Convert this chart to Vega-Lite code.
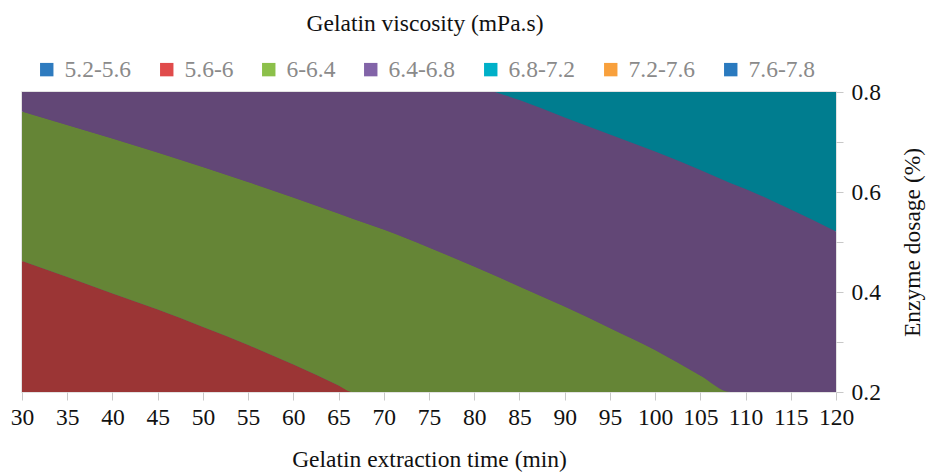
{
  "$schema": "https://vega.github.io/schema/vega-lite/v6.json",
  "width": 814,
  "height": 300,
  "autosize": {"type": "none"},
  "padding": {"left": 22, "top": 92, "right": 94, "bottom": 83},
  "background": "white",
  "config": {
    "font": "Liberation Serif",
    "axis": {"labelFont": "Liberation Serif", "titleFont": "Liberation Serif"},
    "legend": {"labelFont": "Liberation Serif", "titleFont": "Liberation Serif"},
    "view": {"fill": "#624776", "stroke": "#d9d9d9", "strokeWidth": 1.5}
  },
  "data": {
    "values": [
      {"band": "5.6-6", "x": 30, "lo": 0.2, "hi": 0.462},
      {"band": "5.6-6", "x": 35, "lo": 0.2, "hi": 0.430},
      {"band": "5.6-6", "x": 40, "lo": 0.2, "hi": 0.397},
      {"band": "5.6-6", "x": 45, "lo": 0.2, "hi": 0.365},
      {"band": "5.6-6", "x": 50, "lo": 0.2, "hi": 0.330},
      {"band": "5.6-6", "x": 55, "lo": 0.2, "hi": 0.294},
      {"band": "5.6-6", "x": 60, "lo": 0.2, "hi": 0.255},
      {"band": "5.6-6", "x": 65, "lo": 0.2, "hi": 0.213},
      {"band": "5.6-6", "x": 66.5, "lo": 0.2, "hi": 0.2},

      {"band": "6-6.4", "x": 30, "lo": 0.462, "hi": 0.761},
      {"band": "6-6.4", "x": 35, "lo": 0.430, "hi": 0.734},
      {"band": "6-6.4", "x": 40, "lo": 0.397, "hi": 0.707},
      {"band": "6-6.4", "x": 45, "lo": 0.365, "hi": 0.679},
      {"band": "6-6.4", "x": 50, "lo": 0.330, "hi": 0.650},
      {"band": "6-6.4", "x": 55, "lo": 0.294, "hi": 0.620},
      {"band": "6-6.4", "x": 60, "lo": 0.255, "hi": 0.589},
      {"band": "6-6.4", "x": 65, "lo": 0.213, "hi": 0.557},
      {"band": "6-6.4", "x": 66.5, "lo": 0.2, "hi": 0.547},
      {"band": "6-6.4", "x": 70, "lo": 0.2, "hi": 0.525},
      {"band": "6-6.4", "x": 75, "lo": 0.2, "hi": 0.489},
      {"band": "6-6.4", "x": 80, "lo": 0.2, "hi": 0.451},
      {"band": "6-6.4", "x": 85, "lo": 0.2, "hi": 0.411},
      {"band": "6-6.4", "x": 90, "lo": 0.2, "hi": 0.371},
      {"band": "6-6.4", "x": 95, "lo": 0.2, "hi": 0.328},
      {"band": "6-6.4", "x": 100, "lo": 0.2, "hi": 0.284},
      {"band": "6-6.4", "x": 105, "lo": 0.2, "hi": 0.233},
      {"band": "6-6.4", "x": 108.3, "lo": 0.2, "hi": 0.2},

      {"band": "6.4-6.8", "x": 30, "lo": 0.761, "hi": 0.8},
      {"band": "6.4-6.8", "x": 35, "lo": 0.734, "hi": 0.8},
      {"band": "6.4-6.8", "x": 40, "lo": 0.707, "hi": 0.8},
      {"band": "6.4-6.8", "x": 45, "lo": 0.679, "hi": 0.8},
      {"band": "6.4-6.8", "x": 50, "lo": 0.650, "hi": 0.8},
      {"band": "6.4-6.8", "x": 55, "lo": 0.620, "hi": 0.8},
      {"band": "6.4-6.8", "x": 60, "lo": 0.589, "hi": 0.8},
      {"band": "6.4-6.8", "x": 65, "lo": 0.557, "hi": 0.8},
      {"band": "6.4-6.8", "x": 66.5, "lo": 0.547, "hi": 0.8},
      {"band": "6.4-6.8", "x": 70, "lo": 0.525, "hi": 0.8},
      {"band": "6.4-6.8", "x": 75, "lo": 0.489, "hi": 0.8},
      {"band": "6.4-6.8", "x": 80, "lo": 0.451, "hi": 0.8},
      {"band": "6.4-6.8", "x": 82.3, "lo": 0.433, "hi": 0.8},
      {"band": "6.4-6.8", "x": 85, "lo": 0.411, "hi": 0.784},
      {"band": "6.4-6.8", "x": 90, "lo": 0.371, "hi": 0.749},
      {"band": "6.4-6.8", "x": 95, "lo": 0.328, "hi": 0.715},
      {"band": "6.4-6.8", "x": 100, "lo": 0.284, "hi": 0.681},
      {"band": "6.4-6.8", "x": 105, "lo": 0.233, "hi": 0.644},
      {"band": "6.4-6.8", "x": 108.3, "lo": 0.2, "hi": 0.618},
      {"band": "6.4-6.8", "x": 110, "lo": 0.2, "hi": 0.606},
      {"band": "6.4-6.8", "x": 115, "lo": 0.2, "hi": 0.565},
      {"band": "6.4-6.8", "x": 120, "lo": 0.2, "hi": 0.521},

      {"band": "6.8-7.2", "x": 82.3, "lo": 0.8, "hi": 0.8},
      {"band": "6.8-7.2", "x": 85, "lo": 0.784, "hi": 0.8},
      {"band": "6.8-7.2", "x": 90, "lo": 0.749, "hi": 0.8},
      {"band": "6.8-7.2", "x": 95, "lo": 0.715, "hi": 0.8},
      {"band": "6.8-7.2", "x": 100, "lo": 0.681, "hi": 0.8},
      {"band": "6.8-7.2", "x": 105, "lo": 0.644, "hi": 0.8},
      {"band": "6.8-7.2", "x": 108.3, "lo": 0.618, "hi": 0.8},
      {"band": "6.8-7.2", "x": 110, "lo": 0.606, "hi": 0.8},
      {"band": "6.8-7.2", "x": 115, "lo": 0.565, "hi": 0.8},
      {"band": "6.8-7.2", "x": 120, "lo": 0.521, "hi": 0.8}
    ]
  },
  "encoding": {
    "x": {
      "field": "x",
      "type": "quantitative",
      "scale": {"domain": [30, 120], "nice": false, "zero": false},
      "axis": {
        "values": [30, 35, 40, 45, 50, 55, 60, 65, 70, 75, 80, 85, 90, 95, 100, 105, 110, 115, 120],
        "title": "Gelatin extraction time (min)",
        "titleFontSize": 23.5,
        "titleFontWeight": "normal",
        "titleColor": "#111",
        "titlePadding": 19,
        "labelFontSize": 23.5,
        "labelColor": "#111",
        "labelPadding": 5,
        "labelFlush": false,
        "labelOverlap": false,
        "tickColor": "#c8c8c8",
        "tickSize": 8,
        "domain": false,
        "grid": false
      }
    },
    "y": {
      "field": "hi",
      "type": "quantitative",
      "scale": {"domain": [0.2, 0.8], "nice": false, "zero": false},
      "axis": {
        "orient": "right",
        "values": [0.2, 0.3, 0.4, 0.5, 0.6, 0.7, 0.8],
        "labelExpr": "(round(datum.value*10) % 2 == 0) ? format(datum.value, '.1f') : ''",
        "title": "Enzyme dosage (%)",
        "titleAngle": 270,
        "titleX": 76,
        "titleY": 150,
        "titleAlign": "center",
        "titleBaseline": "middle",
        "titleFontSize": 23.5,
        "titleFontWeight": "normal",
        "titleColor": "#111",
        "labelFontSize": 23.5,
        "labelColor": "#111",
        "labelPadding": 8,
        "labelFlush": false,
        "labelOverlap": false,
        "tickColor": "#c8c8c8",
        "tickSize": 7,
        "domain": false,
        "grid": false
      }
    }
  },
  "layer": [
    {
      "mark": {"type": "area", "interpolate": "monotone"},
      "encoding": {
        "y2": {"field": "lo"},
        "fill": {
          "field": "band",
          "type": "nominal",
          "scale": {
            "domain": ["5.6-6", "6-6.4", "6.4-6.8", "6.8-7.2"],
            "range": ["#9b3535", "#658536", "#624776", "#007d8f"]
          },
          "legend": null
        }
      }
    },
    {
      "mark": {"type": "point", "shape": "square", "filled": true, "size": 0},
      "encoding": {
        "color": {
          "field": "band",
          "type": "nominal",
          "scale": {
            "domain": ["5.2-5.6", "5.6-6", "6-6.4", "6.4-6.8", "6.8-7.2", "7.2-7.6", "7.6-7.8"],
            "range": ["#2e7bbf", "#e04b4b", "#8cc04a", "#8264a8", "#00b0c8", "#f8a03c", "#2a7abf"]
          },
          "legend": {
            "orient": "none",
            "legendX": 13,
            "legendY": -80,
            "direction": "horizontal",
            "columns": 7,
            "title": "Gelatin viscosity (mPa.s)",
            "titleFontSize": 23.5,
            "titleFontWeight": "normal",
            "titleColor": "#111",
            "titleAnchor": "middle",
            "titleLimit": 600,
            "titlePadding": 22,
            "labelFontSize": 23.5,
            "labelColor": "#8a8a8a",
            "labelLimit": 200,
            "labelOffset": 6,
            "symbolType": "square",
            "symbolSize": 180,
            "symbolStrokeWidth": 0,
            "symbolOpacity": 1,
            "columnPadding": 23,
            "padding": 0
          }
        }
      }
    }
  ]
}
